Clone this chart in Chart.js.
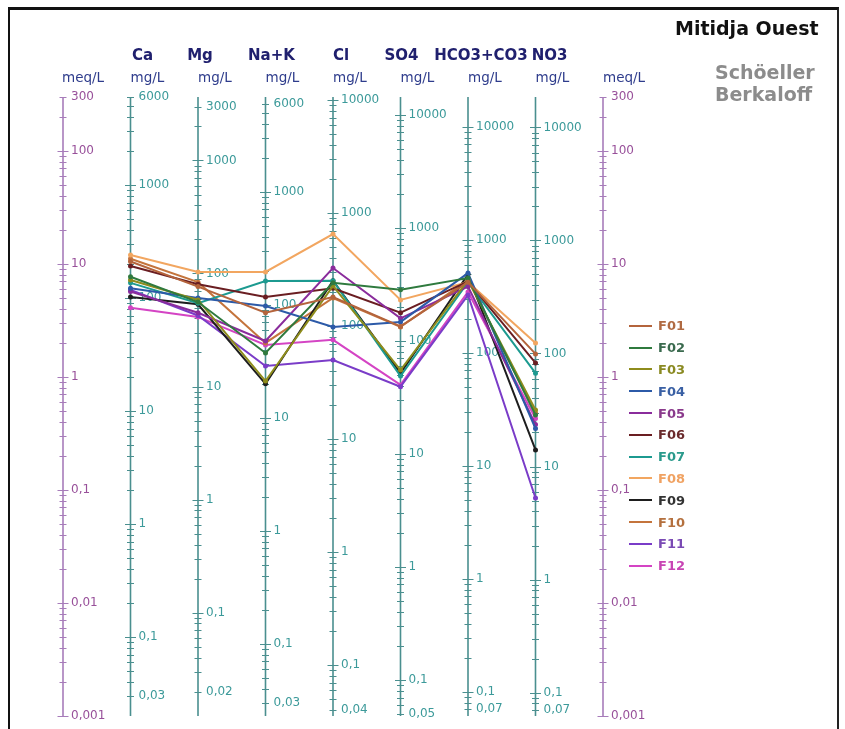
<!DOCTYPE html>
<html>
<head>
<meta charset="utf-8">
<title>Mitidja Ouest – Schöeller Berkaloff</title>
<script src="https://cdn.jsdelivr.net/npm/chart.js@4/dist/chart.umd.min.js"></script>
<style>
  html, body { margin: 0; padding: 0; background: #fff; }
  #wrap { position: relative; width: 845px; height: 729px; overflow: hidden; }
  #frame { position: absolute; left: 8px; top: 7px; width: 827px; height: 740px;
           border-top: 3px solid #111; border-left: 2px solid #111; border-right: 2px solid #222; }
  canvas { position: absolute; left: 0; top: 0; }
  .title { position: absolute; font-family: "DejaVu Sans", sans-serif; font-weight: bold; white-space: nowrap; }
  #t1 { left: 675px; top: 17px; font-size: 19px; color: #111; }
  #t2 { left: 715px; top: 61px; font-size: 19px; color: #8c8c8c; line-height: 22px; }
  #legend { position: absolute; left: 629px; top: 315px; font-family: "DejaVu Sans", sans-serif;
            font-weight: bold; font-size: 13px; }
  #legend .row { display: flex; align-items: center; height: 21.8px; }
  #legend .swatch { width: 23px; height: 2px; margin-right: 6px; }
</style>
</head>
<body>
<div id="wrap">
  <div id="frame"></div>
  <canvas id="chart" width="845" height="729"></canvas>
  <div class="title" id="t1">Mitidja Ouest</div>
  <div class="title" id="t2">Schöeller<br>Berkaloff</div>
  <div id="legend"></div>
</div>
<script>
// Ions along the diagram, in column order
const ions = ['Ca', 'Mg', 'Na+K', 'Cl', 'SO4', 'HCO3+CO3', 'NO3'];
// mg per meq for each ion (equivalent weights)
const mgPerMeq = [20.04, 12.15, 23.0, 35.45, 48.03, 61.02, 62.0];

// Sample names and their concentrations in meq/L (Ca, Mg, Na+K, Cl, SO4, HCO3+CO3, NO3)
const sampleNames = ['F01', 'F02', 'F03', 'F04', 'F05', 'F06', 'F07', 'F08', 'F09', 'F10', 'F11', 'F12'];
const F01 = [10.5, 6.3, 3.7, 5.1, 2.8, 6.9, 1.6];
const F02 = [7.7, 4.6, 1.63, 6.8, 5.9, 7.5, 0.46];
const F03 = [7.2, 4.8, 0.92, 6.4, 1.15, 7.2, 0.51];
const F04 = [6.1, 5.0, 4.25, 2.77, 3.07, 8.3, 0.35];
const F05 = [5.7, 3.7, 2.08, 9.2, 3.3, 6.3, 0.38];
const F06 = [9.6, 6.6, 5.1, 6.1, 3.7, 7.0, 1.33];
const F07 = [6.8, 4.5, 7.07, 7.1, 1.02, 6.9, 1.08];
const F08 = [12.0, 8.5, 8.5, 18.4, 4.8, 6.9, 2.0];
const F09 = [5.1, 4.4, 0.87, 7.1, 1.08, 8.1, 0.226];
const F10 = [11.1, 6.9, 2.0, 5.0, 2.77, 7.2, 0.48];
const F11 = [5.9, 3.5, 1.25, 1.41, 0.82, 5.3, 0.085];
const F12 = [4.1, 3.4, 1.92, 2.13, 0.85, 5.65, 0.43];
const sampleValues = [F01, F02, F03, F04, F05, F06, F07, F08, F09, F10, F11, F12];

// Labelled ticks: meq/L on the outer axes, mg/L on each ion axis
const meqTickLabels = [300, 100, 10, 1, 0.1, 0.01, 0.001];
const caTicks   = [6000, 1000, 100, 10, 1, 0.1, 0.03];
const mgTicks   = [3000, 1000, 100, 10, 1, 0.1, 0.02];
const nakTicks  = [6000, 1000, 100, 10, 1, 0.1, 0.03];
const clTicks   = [10000, 1000, 100, 10, 1, 0.1, 0.04];
const so4Ticks  = [10000, 1000, 100, 10, 1, 0.1, 0.05];
const hco3Ticks = [10000, 1000, 100, 10, 1, 0.1, 0.07];
const no3Ticks  = [10000, 1000, 100, 10, 1, 0.1, 0.07];
const mgTickLabels = [caTicks, mgTicks, nakTicks, clTicks, so4Ticks, hco3Ticks, no3Ticks];

// Styling
const lineColors = ['#b4643c', '#2f7a3e', '#8e8c1c', '#2c5aa8', '#8a2c9c', '#6a1e22', '#1c9a90',
                    '#f2a660', '#1e1e1e', '#c4743c', '#7a3cc8', '#d444c4'];
const textColors = ['#b06a42', '#3a6a4e', '#8a8a22', '#3a60a4', '#8a3a8c', '#6a2a2c', '#2a9a8c',
                    '#f0a262', '#333333', '#b4703e', '#7a4ab4', '#c844b4'];
const titleShift = [12, 2, 6, 8, 1, 13, 14];
const MEQ_LINE = '#a77cba', MEQ_TEXT = '#98509a';
const MG_LINE = '#4a8f8f', MG_TEXT = '#3c9a9a';
const NAVY = '#20206e', UNIT = '#2e3c8c';

function fmt(v) { return String(v).replace('.', ','); }

function drawLogAxis(ctx, px, yScale, factor, labels, lineColor, textColor) {
  const area = yScale.chart.chartArea;
  ctx.strokeStyle = lineColor;
  ctx.lineWidth = 1.6;
  ctx.beginPath();
  ctx.moveTo(px, area.top);
  ctx.lineTo(px, area.bottom);
  ctx.stroke();

  const lo = Math.min(...labels), hi = Math.max(...labels);
  ctx.lineWidth = 1;
  for (let e = Math.floor(Math.log10(lo)) - 1; e <= Math.ceil(Math.log10(hi)); e++) {
    for (let k = 1; k <= 9; k++) {
      const v = Number((k * Math.pow(10, e)).toPrecision(12));
      if (v < lo * (1 - 1e-9) || v > hi * (1 + 1e-9)) continue;
      const py = Math.round(yScale.getPixelForValue(v / factor)) + 0.5;
      const len = k === 1 ? 5.5 : 3.5;
      ctx.beginPath();
      ctx.moveTo(px - len, py);
      ctx.lineTo(px + len, py);
      ctx.stroke();
    }
  }
  ctx.fillStyle = textColor;
  ctx.font = '12px "DejaVu Sans", sans-serif';
  ctx.textAlign = 'left';
  ctx.textBaseline = 'middle';
  labels.forEach(v => {
    ctx.fillText(fmt(v), px + 8, yScale.getPixelForValue(v / factor));
  });
}

const schoellerAxes = {
  id: 'schoellerAxes',
  beforeDatasetsDraw(chart) {
    const { ctx, scales: { x, y } } = chart;
    ctx.save();
    // meq/L axes at both ends
    [0, ions.length + 1].forEach(col => {
      drawLogAxis(ctx, x.getPixelForValue(col), y, 1, meqTickLabels, MEQ_LINE, MEQ_TEXT);
    });
    // mg/L axis for each ion
    ions.forEach((ion, i) => {
      drawLogAxis(ctx, x.getPixelForValue(i + 1), y, mgPerMeq[i], mgTickLabels[i], MG_LINE, MG_TEXT);
    });

    // Headers
    ctx.textBaseline = 'middle';
    ctx.font = 'bold 15px "DejaVu Sans", sans-serif';
    ctx.fillStyle = NAVY;
    ctx.textAlign = 'center';
    ions.forEach((ion, i) => {
      ctx.fillText(ion, x.getPixelForValue(i + 1) + titleShift[i], 56);
    });
    ctx.font = '13.5px "DejaVu Sans", sans-serif';
    ctx.fillStyle = UNIT;
    ctx.textAlign = 'left';
    ctx.fillText('meq/L', x.getPixelForValue(0) - 1, 78);
    ctx.fillText('meq/L', x.getPixelForValue(ions.length + 1), 78);
    ions.forEach((ion, i) => {
      ctx.fillText('mg/L', x.getPixelForValue(i + 1), 78);
    });
    ctx.restore();
  }
};

const datasets = sampleNames.map((name, s) => ({
  label: name,
  data: sampleValues[s].map((v, i) => ({ x: i + 1, y: v })),
  borderColor: lineColors[s],
  backgroundColor: lineColors[s],
  borderWidth: 2,
  pointRadius: 2.5,
  pointBorderWidth: 0,
  tension: 0,
  clip: false
}));

new Chart(document.getElementById('chart'), {
  type: 'line',
  data: { datasets },
  options: {
    responsive: false,
    animation: false,
    layout: { padding: { left: 63, right: 242, top: 97, bottom: 13 } },
    scales: {
      x: { type: 'linear', min: 0, max: ions.length + 1, display: false },
      y: { type: 'logarithmic', min: 0.001, max: 300, display: false }
    },
    plugins: { legend: { display: false }, tooltip: { enabled: false } }
  },
  plugins: [schoellerAxes]
});

// Legend
const legend = document.getElementById('legend');
sampleNames.forEach((name, s) => {
  const row = document.createElement('div');
  row.className = 'row';
  const sw = document.createElement('span');
  sw.className = 'swatch';
  sw.style.background = lineColors[s];
  const label = document.createElement('span');
  label.textContent = name;
  label.style.color = textColors[s];
  row.appendChild(sw);
  row.appendChild(label);
  legend.appendChild(row);
});
</script>
</body>
</html>
